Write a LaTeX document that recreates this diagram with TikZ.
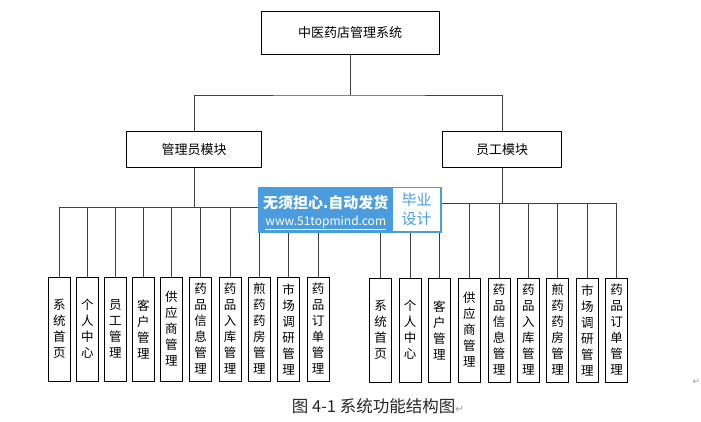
\documentclass[tikz,border=0pt]{standalone}
\usepackage{fontspec}
\setmainfont{Noto Sans CJK SC}
\newfontfamily\symfont{DejaVu Sans}
\usetikzlibrary{positioning}
\definecolor{wmblue}{HTML}{4A9CDE}
\tikzset{
  box/.style = {draw, line width=0.8pt, inner sep=0pt, font=\fontsize{13}{15}\selectfont},
  leaf/.style = {box, minimum width=22pt, minimum height=104pt, align=center, font=\fontsize{12.5}{16}\selectfont},
  link/.style = {draw=black!75, line width=0.9pt},
}

\begin{document}
\begin{tikzpicture} [x=1pt, y=-1pt]
        \useasboundingbox (0,0) rectangle (701,422);
        \node (sys) [box, minimum width=178pt, minimum height=43pt] at (350,32.5) {中医药店管理系统};
        \node (admin) [box, minimum width=135pt, minimum height=36pt] at (194,149.5) {管理员模块};
        \node (staff) [box, minimum width=119pt, minimum height=36pt] at (502,149.5) {员工模块};

        \coordinate (top bus) at (350,95);
        \coordinate (admin bus) at (194,207);
        \coordinate (staff bus) at (502,203.5);

        \path [link] (sys) -- (top bus);
        \path [link] (admin.north) |- (top bus) -| (staff.north);
        \path [link] (admin) -- (admin bus);
        \path [link] (staff) -- (staff bus);

        % admin leaves
        \foreach \i/\x/\t in {1/59.3/{系\\统\\首\\页}, 2/87.3/{个\\人\\中\\心}, 3/115.3/{员\\工\\管\\理},
                4/143.3/{客\\户\\管\\理}, 5/171.3/{供\\应\\商\\管\\理}, 6/200.7/{药\\品\\信\\息\\管\\理},
                7/230/{药\\品\\入\\库\\管\\理}, 8/259.3/{煎\\药\\药\\房\\管\\理}, 9/288.7/{市\\场\\调\\研\\管\\理},
                10/318/{药\\品\\订\\单\\管\\理}} {
            \node (a\i) [leaf] at (\x,329) {\t};
            \path [link] (admin bus) -| (a\i.north);
        }

        % staff leaves
        \foreach \i/\x/\t in {1/380.7/{系\\统\\首\\页}, 2/410/{个\\人\\中\\心}, 3/439.3/{客\\户\\管\\理},
                4/469.3/{供\\应\\商\\管\\理}, 5/499/{药\\品\\信\\息\\管\\理}, 6/528.3/{药\\品\\入\\库\\管\\理},
                7/557.7/{煎\\药\\药\\房\\管\\理}, 8/587.3/{市\\场\\调\\研\\管\\理}, 9/616.7/{药\\品\\订\\单\\管\\理}} {
            \node (s\i) [leaf] at (\x,330) {\t};
            \path [link] (staff bus) -| (s\i.north);
        }

        % watermark
        \node (wm) [fill=wmblue, minimum width=183.4pt, minimum height=46pt, inner sep=0pt] at (350,210.3) {};
        \node (wm tag) [fill=white, minimum width=46.7pt, minimum height=42pt, inner sep=0pt, text=wmblue, align=center,
                font=\fontsize{15}{19}\selectfont] at (416.7,209.5) {毕业\\设计};
        \node (wm line1) [text=white, font=\bfseries\fontsize{15}{17}\selectfont] at (325.8,202.5) {无须担心.自动发货};
        \node (wm line2) [text=white, font=\fontsize{12}{14}\selectfont] at (325.8,223) {\underline{www.51topmind.com}};

        \node (cap) [anchor=west, inner sep=0pt, text=black!85, font=\fontsize{16.5}{18}\selectfont] at (291.7,406.5)
                {图 4-1 系统功能结构图{\symfont\color{black!40}\fontsize{10}{12}\selectfont ↵}};
        \node (mark) [text=black!40, font=\symfont\fontsize{9}{10}\selectfont] at (696.5,382) {↵};
    \end{tikzpicture}
\end{document}
